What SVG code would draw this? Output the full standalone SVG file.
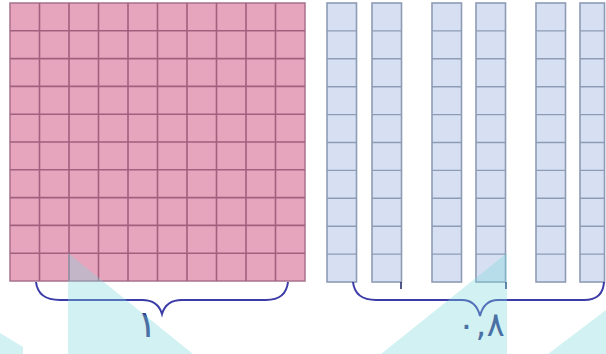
<svg xmlns="http://www.w3.org/2000/svg" width="606" height="354" viewBox="0 0 606 354">
<style>
.pink{fill:#e7a5bd;stroke:#a8708c;stroke-width:1.5}
.pgrid{fill:none;stroke:#a0607e;stroke-width:1.6}
.blue{fill:#d6e0f2;stroke:#8d9bb5;stroke-width:1.6}
.bgrid{fill:none;stroke:#8d9bb5;stroke-width:1.4}
.brace{fill:none;stroke:#3c3ca8;stroke-width:2}
.tick{stroke:#2a3070;stroke-width:1.6}
.lbl{font-family:"DejaVu Sans",sans-serif;fill:#2e3a86;text-anchor:middle}
.wm{fill:#7fd6dc;opacity:0.35}
</style>
<rect width="606" height="354" fill="#ffffff"/>
<g id="unit-square">
<rect class="pink" x="10" y="3" width="295" height="278"/>
<path class="pgrid" d="M39.5,3V281M69,3V281M98.5,3V281M128,3V281M157.5,3V281M187,3V281M216.5,3V281M246,3V281M275.5,3V281M10,30.8H305M10,58.6H305M10,86.4H305M10,114.2H305M10,142H305M10,169.8H305M10,197.6H305M10,225.4H305M10,253.2H305"/>
</g>
<defs>
<path id="rows" class="bgrid" d="M0,30.9H29.5M0,58.8H29.5M0,86.7H29.5M0,114.6H29.5M0,142.5H29.5M0,170.4H29.5M0,198.3H29.5M0,226.2H29.5M0,254.1H29.5"/>
</defs>
<g id="strip-1"><rect class="blue" x="327" y="3" width="29.5" height="279"/><use href="#rows" x="327"/></g>
<g id="strip-2"><rect class="blue" x="372" y="3" width="29.5" height="279"/><use href="#rows" x="372"/></g>
<g id="strip-3"><rect class="blue" x="432" y="3" width="29.5" height="279"/><use href="#rows" x="432"/></g>
<g id="strip-4"><rect class="blue" x="476" y="3" width="29.5" height="279"/><use href="#rows" x="476"/></g>
<g id="strip-5"><rect class="blue" x="536" y="3" width="29.5" height="279"/><use href="#rows" x="536"/></g>
<g id="strip-6"><rect class="blue" x="580" y="3" width="24.5" height="279"/><path class="bgrid" d="M580,30.9H604.5M580,58.8H604.5M580,86.7H604.5M580,114.6H604.5M580,142.5H604.5M580,170.4H604.5M580,198.3H604.5M580,226.2H604.5M580,254.1H604.5"/></g>
<g id="connectors">
<path class="brace" d="M36,282Q38,300 60,300L142,300Q158,300 162,314Q166,300 182,300L266,300Q286,300 288,282"/>
<path class="brace" d="M353,282Q355,300 376,300L462,300Q476,300 480,316Q484,300 498,300L584,300Q603,300 604,282"/>
<path class="tick" d="M401,282V289M506,282V289"/>
</g>
<g id="label-one"><text class="lbl" x="147" y="337" font-size="38">١</text></g>
<g id="label-decimal"><text class="lbl" x="481" y="336" font-size="34" letter-spacing="3">٠,٨</text></g>
<g id="watermark">
<polygon class="wm" points="0,333 23,347 23,354 0,354"/>
<polygon class="wm" points="68,253 193,354 68,354"/>
<polygon class="wm" points="507,253 507,354 381,354"/>
<polygon class="wm" points="548,354 606,310 606,354"/>
</g>
</svg>
